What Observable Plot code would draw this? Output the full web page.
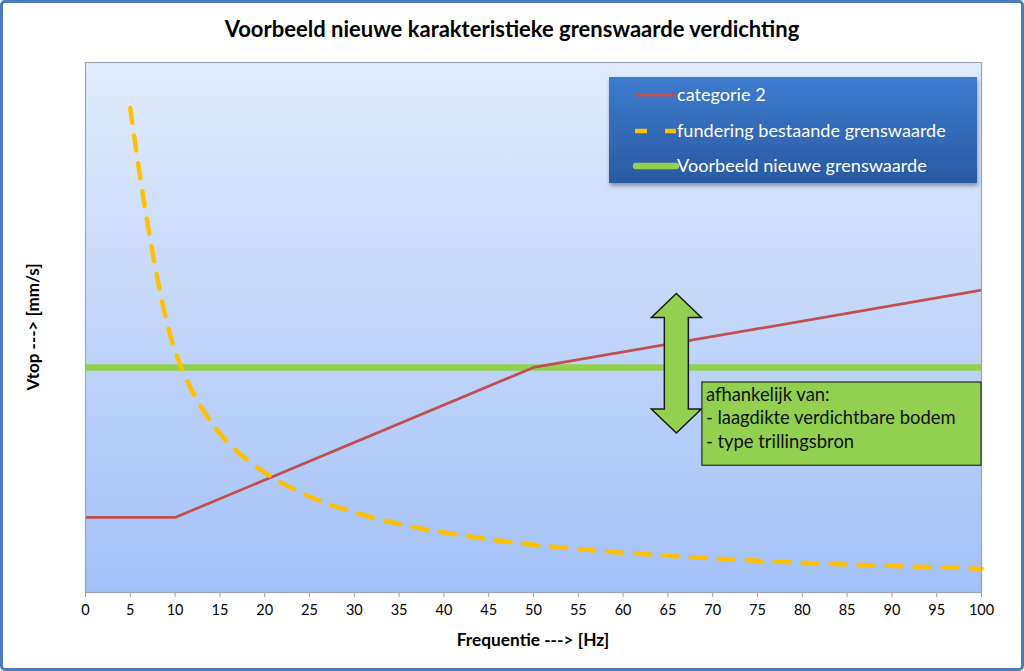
<!DOCTYPE html>
<html><head><meta charset="utf-8">
<script src="https://cdn.jsdelivr.net/npm/d3@7"></script>
<script src="https://cdn.jsdelivr.net/npm/@observablehq/plot@0.6"></script>
<style>
html,body{margin:0;padding:0;background:#fff;}
#chart{position:absolute;left:0;top:0;}
#title{position:absolute;left:0;top:15px;width:1024px;text-align:center;font-family:Lato,sans-serif;font-weight:bold;font-size:22px;color:#000;}
#border{position:absolute;left:0;top:0;width:1024px;height:671px;box-sizing:border-box;border:3px solid #4a7ebb;border-radius:5px;pointer-events:none;}
</style></head><body>
<div id="chart"></div>
<div id="title">Voorbeeld nieuwe karakteristieke grenswaarde verdichting</div>
<div id="border"></div>
<script>
// ---- data ----
const cat2Freq = [0, 10, 50, 100];
const cat2Vtop = [5, 5, 15, 20.15];
const fundFreq = [5, 10, 15, 20, 25, 30, 35, 40, 45, 50, 55, 60, 65, 70, 75, 80, 85, 90, 95, 100];
const fundVtop = [32.3, 16.1, 10.6, 8.0, 6.4, 5.35, 4.57, 4.0, 3.55, 3.18, 2.9, 2.65, 2.45, 2.27, 2.12, 1.98, 1.87, 1.77, 1.68, 1.58];
const newFreq = [0, 100];
const newVtop = [15, 15];
const xTicks = [0, 5, 10, 15, 20, 25, 30, 35, 40, 45, 50, 55, 60, 65, 70, 75, 80, 85, 90, 95, 100];
const seriesNames = ["categorie 2", "fundering bestaande grenswaarde", "Voorbeeld nieuwe grenswaarde"];
const arrowFreq = 66;
const arrowVtop = [10.6, 19.9];
const noteFreq = [68.85, 100];
const noteVtop = [8.45, 14.0];
const noteLines = ["afhankelijk van:", "- laagdikte verdichtbare bodem", "- type trillingsbron"];
const xLabel = "Frequentie ---> [Hz]";
const yLabel = "Vtop ---> [mm/s]";

const cat2 = cat2Freq.map((f, i) => ({f, v: cat2Vtop[i]}));
const fund = fundFreq.map((f, i) => ({f, v: fundVtop[i]}));
const nieuw = newFreq.map((f, i) => ({f, v: newVtop[i]}));

const plot = Plot.plot({
  width: 1024, height: 671,
  marginLeft: 85, marginRight: 43, marginTop: 62, marginBottom: 79,
  style: {background: "transparent", fontFamily: "Lato, sans-serif", maxWidth: "none", overflow: "visible"},
  x: {domain: [0, 100], ticks: xTicks, label: null},
  y: {domain: [0, 35.33], axis: null},
  marks: [
    Plot.frame({fill: "url(#bgGrad)"}),
    Plot.line(nieuw, {x: "f", y: "v", stroke: "#92d050", strokeWidth: 6.5, strokeLinecap: "butt"}),
    Plot.line(cat2, {x: "f", y: "v", stroke: "#c0504d", strokeWidth: 2.75, strokeLinecap: "butt"}),
    Plot.line(fund, {x: "f", y: "v", stroke: "#ffc000", strokeWidth: 4.5, strokeDasharray: "15,13", curve: "catmull-rom"}),
    Plot.frame({stroke: "#9aa4b2", strokeWidth: 1.2}),
    Plot.axisX({ticks: xTicks, tickSize: 5, tickPadding: 7, fontSize: 14.5, stroke: "#9aa4b2", fill: "#000", label: null})
  ]
});
document.getElementById("chart").appendChild(plot);

const svg = d3.select(plot);
const sx = plot.scale("x"), sy = plot.scale("y");
const X = v => sx.apply(v), Y = v => sy.apply(v);
const defs = svg.insert("defs", ":first-child");
const g1 = defs.append("linearGradient").attr("id", "bgGrad").attr("x1", 0).attr("y1", 0).attr("x2", 0).attr("y2", 1);
g1.append("stop").attr("offset", "0%").attr("stop-color", "#e1ebfc");
g1.append("stop").attr("offset", "100%").attr("stop-color", "#a3c1f8");
const g2 = defs.append("linearGradient").attr("id", "legGrad").attr("x1", 0).attr("y1", 0).attr("x2", 0).attr("y2", 1);
g2.append("stop").attr("offset", "0%").attr("stop-color", "#3d7bcf");
g2.append("stop").attr("offset", "100%").attr("stop-color", "#2a5aa2");
const sh = defs.append("filter").attr("id", "shadow").attr("x", "-10%").attr("y", "-10%").attr("width", "130%").attr("height", "140%");
sh.append("feDropShadow").attr("dx", 1).attr("dy", 3).attr("stdDeviation", 2).attr("flood-color", "#000").attr("flood-opacity", 0.35);

// axis labels
svg.append("text").attr("x", 533).attr("y", 646).attr("text-anchor", "middle")
  .attr("font-weight", "bold").attr("font-size", 17.3).attr("fill", "#000").text(xLabel);
svg.append("text").attr("transform", "translate(39,327) rotate(-90)").attr("text-anchor", "middle")
  .attr("font-weight", "bold").attr("font-size", 17).attr("fill", "#000").text(yLabel);

// double arrow
const ax = X(arrowFreq), yb = Y(arrowVtop[0]), yt = Y(arrowVtop[1]);
const hw = 25, sw = 12, hh = 24;
const pts = [[ax, yt], [ax + hw, yt + hh], [ax + sw, yt + hh], [ax + sw, yb - hh], [ax + hw, yb - hh], [ax, yb],
  [ax - hw, yb - hh], [ax - sw, yb - hh], [ax - sw, yt + hh], [ax - hw, yt + hh]];
svg.append("polygon").attr("points", pts.map(p => p.join(",")).join(" "))
  .attr("fill", "#92d050").attr("stroke", "#1a1a1a").attr("stroke-width", 1.5).attr("stroke-linejoin", "miter");

// note box
const nx0 = X(noteFreq[0]), nx1 = X(noteFreq[1]), ny0 = Y(noteVtop[1]), ny1 = Y(noteVtop[0]);
svg.append("rect").attr("x", nx0).attr("y", ny0).attr("width", nx1 - nx0).attr("height", ny1 - ny0)
  .attr("fill", "#92d050").attr("stroke", "#2a2a2a").attr("stroke-width", 1.2);
noteLines.forEach((t, i) => {
  svg.append("text").attr("x", nx0 + 4).attr("y", ny0 + 19 + i * 23.5).attr("text-anchor", "start")
    .attr("font-size", 18.4).attr("fill", "#111").text(t);
});

// legend
const lg = svg.append("g");
lg.append("rect").attr("x", 609).attr("y", 77).attr("width", 368).attr("height", 106)
  .attr("fill", "url(#legGrad)").attr("filter", "url(#shadow)");
const rows = [95, 131, 166];
lg.append("line").attr("x1", 636).attr("x2", 676).attr("y1", rows[0]).attr("y2", rows[0]).attr("stroke", "#c0504d").attr("stroke-width", 2.75);
lg.append("line").attr("x1", 635).attr("x2", 676).attr("y1", rows[1]).attr("y2", rows[1]).attr("stroke", "#ffc000").attr("stroke-width", 4.5).attr("stroke-dasharray", "12,18");
lg.append("line").attr("x1", 636).attr("x2", 676).attr("y1", rows[2]).attr("y2", rows[2]).attr("stroke", "#92d050").attr("stroke-width", 6.5).attr("stroke-linecap", "round");
seriesNames.forEach((t, i) => {
  lg.append("text").attr("x", 677).attr("y", rows[i]).attr("dy", "0.35em").attr("text-anchor", "start")
    .attr("font-size", 18.1).attr("fill", "#fff").text(t);
});
</script>
</body></html>
